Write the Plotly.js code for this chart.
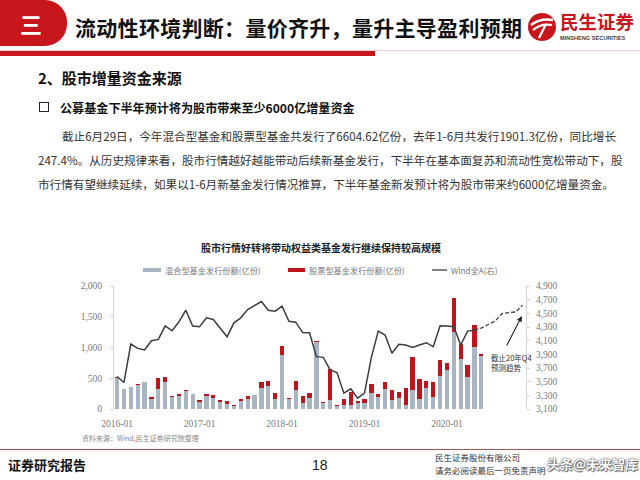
<!DOCTYPE html>
<html>
<head>
<meta charset="utf-8">
<script src="https://cdn.plot.ly/plotly-3.0.1.min.js"></script>
<style>
  html, body { margin:0; padding:0; background:#fff; }
  #page { position:relative; width:640px; height:480px; overflow:hidden; background:#fff;
          font-family:"Noto Sans CJK SC","Noto Sans",sans-serif; color:#222; }
  .abs { position:absolute; white-space:nowrap; }
  #chart { position:absolute; left:0; top:0; width:640px; height:480px; }
  .para { position:absolute; font-size:11.6px; color:#333; text-align:justify; text-align-last:justify; white-space:nowrap; line-height:14px; }
</style>
</head>
<body>
<div id="page">
  <!-- header -->
  <div class="abs" style="left:0;top:0;width:67px;height:46px;background:#C8161D;border-radius:0 22px 22px 0;"></div>
  <div class="abs" style="left:0;top:9px;width:62px;text-align:center;color:#fff;font-weight:700;font-size:22px;line-height:28px;">三</div>
  <div class="abs" style="left:75px;top:13px;font-weight:700;font-size:21px;line-height:28px;color:#111;letter-spacing:0.3px;">流动性环境判断：量价齐升，量升主导盈利预期</div>
  <div class="abs" style="left:0;top:50px;width:640px;height:1px;background:#f0d0d0;"></div>
  <div class="abs" style="left:0;top:51px;width:375px;height:5px;background:#C8161D;"></div>
  <svg class="abs" style="left:527px;top:12px;" width="30" height="30" viewBox="0 0 30 30">
    <circle cx="15" cy="15" r="14" fill="#C8161D"/>
    <path d="M4 13 Q13 6 26 8" stroke="#fff" stroke-width="2.4" fill="none"/>
    <path d="M6 18 Q14 11 25 13" stroke="#fff" stroke-width="2.2" fill="none"/>
    <path d="M12 26 L19 12" stroke="#fff" stroke-width="2.2" fill="none"/>
  </svg>
  <div class="abs" style="left:560px;top:10px;font-weight:700;font-size:18.5px;line-height:22px;color:#C8161D;">民生证券</div>
  <div class="abs" style="left:560px;top:35px;font-weight:700;font-size:5.6px;line-height:7px;color:#444;font-family:'Liberation Sans',sans-serif;">MINSHENG SECURITIES</div>

  <!-- section text -->
  <div class="abs" style="left:38px;top:68px;font-weight:700;font-size:15px;line-height:20px;color:#111;">2、股市增量资金来源</div>
  <div class="abs" style="left:39px;top:102px;width:8px;height:8px;border:1.5px solid #222;"></div>
  <div class="abs" style="left:60px;top:99px;font-weight:700;font-size:12.1px;line-height:17px;color:#111;">公募基金下半年预计将为股市带来至少6000亿增量资金</div>
  <div class="para" style="left:62px;top:129px;width:545px;">截止6月29日，今年混合型基金和股票型基金共发行了6604.62亿份，去年1-6月共发行1901.3亿份，同比增长</div>
  <div class="para" style="left:38px;top:153px;width:569px;">247.4%。从历史规律来看，股市行情越好越能带动后续新基金发行，下半年在基本面复苏和流动性宽松带动下，股</div>
  <div class="para" style="left:38px;top:177px;width:569px;">市行情有望继续延续，如果以1-6月新基金发行情况推算，下半年基金新发预计将为股市带来约6000亿增量资金。</div>

  <!-- footer -->
  <div class="abs" style="left:0;top:449px;width:640px;height:1px;background:#9a5a5a;"></div>
  <div class="abs" style="left:8px;top:456px;font-weight:700;font-size:13px;line-height:18px;color:#111;">证券研究报告</div>
  <div class="abs" style="left:312px;top:456px;font-size:14px;line-height:18px;color:#222;font-family:'Liberation Sans',sans-serif;">18</div>
  <div class="abs" style="left:435px;top:451px;font-size:8.5px;line-height:12px;color:#333;">民生证券股份有限公司</div>
  <div class="abs" style="left:435px;top:464px;font-size:8.5px;line-height:12px;color:#333;">请务必阅读最后一页免责声明</div>

  <div id="chart"></div>

  <div class="abs" style="left:547px;top:455px;font-size:13px;line-height:18px;color:#fff;font-weight:700;text-shadow:0 0 1px #555,0 0 2px #555,1px 1px 1px #666;">头条@未来智库</div>
</div>

<script>
// ---- data ----
var tickVals = [0, 12, 24, 36, 48];
var tickLabels = ["2016-01", "2017-01", "2018-01", "2019-01", "2020-01"];
var seriesNames = ["混合型基金发行份额(亿份)", "股票型基金发行份额(亿份)", "Wind全A(右)"];

// month index 0 = 2016-01 ... 53 = 2020-06
var mixedFund = [500, 318, 350, 390, 447, 170, 330, 437, 200, 215, 300, 243,
                 113, 205, 178, 108, 87, 45, 124, 162, 232, 345, 367, 167,
                 879, 170, 313, 97, 178, 1085, 90, 140, 45, 70, 70, 90,
                 97, 259, 189, 329, 140, 183, 70, 313, 167, 334, 199, 539,
                 636, 1256, 808, 528, 1013, 862];
var stockFund = [15, 5, 5, 15, 0, 30, 172, 80, 5, 27, 10, 5,
                 38, 32, 48, 32, 48, 14, 43, 43, 0, 86, 86, 92,
                 145, 8, 145, 118, 81, 20, 18, 510, 14, 97, 200, 45,
                 65, 151, 48, 102, 172, 92, 270, 534, 323, 129, 237, 253,
                 108, 550, 248, 189, 361, 27];
var windA = [3575, 3488, 4051, 3987, 3963, 4099, 4118, 4317, 4245, 4376, 4546, 4313,
             4303, 4434, 4410, 4288, 4157, 4361, 4434, 4555, 4618, 4672, 4546, 4531,
             4604, 4383, 4371, 4218, 4215, 3866, 3856, 3672, 3633, 3332, 3395, 3259,
             3332, 3856, 4240, 4182, 3915, 4046, 4036, 4002, 4036, 4070, 4012, 4317,
             4313, 4303, 4036, 4240, 4254];
var windForecast = [4254, 4284, 4337, 4385, 4497, 4507, 4521, 4618];
var forecastStart = 52;

var barX = mixedFund.map(function(_, i){ return i; });
var lineX = windA.map(function(_, i){ return i; });
var fcX = windForecast.map(function(_, i){ return forecastStart + i; });

var colors = ['#A9B5C1', '#C0141C', '#3a3d42'];

// ---- geometry helpers (page pixels -> paper) ----
var PL = 114, PR = 526, PT = 286, PB = 409;
function px(x){ return (x - PL) / (PR - PL); }
function py(y){ return (PB - y) / (PB - PT); }

var traces = [
  { type:'bar', x:barX, y:mixedFund, name:seriesNames[0],
    marker:{color:colors[0]}, width:0.62, hoverinfo:'y' },
  { type:'bar', x:barX, y:stockFund, name:seriesNames[1],
    marker:{color:colors[1]}, width:0.62, hoverinfo:'y' },
  { type:'scatter', mode:'lines', x:lineX, y:windA, name:seriesNames[2], yaxis:'y2',
    line:{color:colors[2], width:1.5} },
  { type:'scatter', mode:'lines', x:fcX, y:windForecast, name:'预测趋势', yaxis:'y2',
    line:{color:colors[2], width:1.3, dash:'4px,2px'} }
];

var tickFont = {family:'"Liberation Serif","DejaVu Serif",serif', size:9.5, color:'#7a7a7a'};
var legFont = {family:'"Noto Sans CJK SC",sans-serif', size:8.2, color:'#777'};

// manual legend: symbol shapes + text
var legendSymX = [[143, 161], [288, 305], [432, 447]];
var legendY = 270;
var shapes = [
  { type:'rect', xref:'paper', yref:'paper', x0:px(legendSymX[0][0]), x1:px(legendSymX[0][1]),
    y0:py(legendY+2), y1:py(legendY-2), fillcolor:colors[0], line:{width:0} },
  { type:'rect', xref:'paper', yref:'paper', x0:px(legendSymX[1][0]), x1:px(legendSymX[1][1]),
    y0:py(legendY+2), y1:py(legendY-2), fillcolor:colors[1], line:{width:0} },
  { type:'line', xref:'paper', yref:'paper', x0:px(legendSymX[2][0]), x1:px(legendSymX[2][1]),
    y0:py(legendY), y1:py(legendY), line:{color:colors[2], width:1.3} }
];
var legendAnn = seriesNames.map(function(n, i){
  return { xref:'paper', yref:'paper', x:px(legendSymX[i][1] + 2), y:py(legendY), xanchor:'left', yanchor:'middle',
           text:n, showarrow:false, font:legFont };
});

var layout = {
  width:640, height:480,
  margin:{l:PL, r:640-PR, t:PT, b:480-PB, pad:0},
  paper_bgcolor:'rgba(0,0,0,0)', plot_bgcolor:'rgba(0,0,0,0)',
  barmode:'stack',
  showlegend:false,
  font:{family:'"Noto Sans CJK SC","Noto Sans",sans-serif'},
  xaxis:{ range:[-0.45, 59.5], tickvals:tickVals, ticktext:tickLabels, tickfont:tickFont,
          showgrid:false, zeroline:false, showline:false, ticks:'', ticklabelstandoff:7 },
  yaxis:{ range:[0, 2000], tickvals:[0,500,1000,1500,2000], tickformat:',', tickfont:tickFont,
          showgrid:false, zeroline:false, showline:true, linecolor:'#d6d6d6', linewidth:1,
          ticks:'outside', ticklen:3, tickcolor:'#d6d6d6', ticklabelstandoff:6 },
  yaxis2:{ overlaying:'y', side:'right', range:[3100, 4900], dtick:200, tick0:3100, tickformat:',',
           tickfont:tickFont, showgrid:false, zeroline:false, showline:true, linecolor:'#d6d6d6',
           linewidth:1, ticks:'outside', ticklen:3, tickcolor:'#d6d6d6', ticklabelstandoff:4 },
  shapes:shapes,
  annotations:[
    { xref:'paper', yref:'paper', x:px(321), y:py(247), xanchor:'center', yanchor:'middle',
      text:'<b>股市行情好转将带动权益类基金发行继续保持较高规模</b>', showarrow:false,
      font:{size:10, color:'#222'} },
    { xref:'paper', yref:'paper', x:px(80), y:py(438), xanchor:'left', yanchor:'middle',
      text:'资料来源：Wind,民生证券研究院整理', showarrow:false, font:{size:7, color:'#888'} },
    { xref:'paper', yref:'paper', x:px(489), y:py(362), xanchor:'left', yanchor:'middle', align:'left',
      text:'截止20年Q4<br>预测趋势', showarrow:false, font:{size:7.5, color:'#333'} },
    { xref:'x', yref:'y2', x:58.9, y:4460, ax:-16, ay:31, text:'', showarrow:true,
      arrowhead:2, arrowsize:1, arrowwidth:1.1, arrowcolor:'#222' }
  ].concat(legendAnn)
};

Plotly.newPlot('chart', traces, layout, {displayModeBar:false, staticPlot:true});
</script>
</body>
</html>
